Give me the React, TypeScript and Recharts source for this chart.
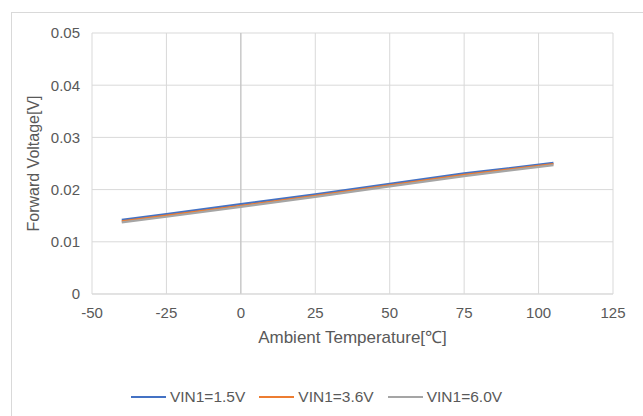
import React from 'react'
import { LineChart, Line, XAxis, YAxis, CartesianGrid, Legend, ReferenceLine } from 'recharts'

// ambient temperature [°C] and forward voltage [V] per input voltage
const temps = [-40, -25, 0, 25, 50, 75, 105]
const vin15 = [0.0142, 0.0153, 0.0172, 0.0191, 0.0211, 0.0231, 0.0251]
const vin36 = [0.0139, 0.015, 0.0169, 0.0188, 0.0208, 0.0228, 0.0249]
const vin60 = [0.0137, 0.0148, 0.0167, 0.0186, 0.0206, 0.0226, 0.0247]

const xTicks = [-50, -25, 0, 25, 50, 75, 100, 125]
const yTicks = [0, 0.01, 0.02, 0.03, 0.04, 0.05]

const seriesKeys = ['v15', 'v36', 'v60']
const seriesNames = ['VIN1=1.5V', 'VIN1=3.6V', 'VIN1=6.0V']
const seriesColors = ['#4472C4', '#ED7D31', '#A5A5A5']

const data = temps.map((t, i) => ({ t, v15: vin15[i], v36: vin36[i], v60: vin60[i] }))

const textColor = '#595959'
const gridColor = '#d9d9d9'

function LegendContent({ payload }: any) {
  return (
    <div style={{ display: 'flex', justifyContent: 'center', alignItems: 'center', height: 18 }}>
      {(payload || []).map((p: any) => (
        <div key={p.value} style={{ display: 'flex', alignItems: 'center', margin: '0 7px' }}>
          <span style={{ display: 'inline-block', width: 35, height: 2.5, background: p.color, marginRight: 4 }} />
          <span style={{ fontSize: 15.5, color: textColor }}>{p.value}</span>
        </div>
      ))}
    </div>
  )
}

export default function App() {
  return (
    <div
      style={{
        position: 'relative',
        width: 643,
        height: 416,
        overflow: 'hidden',
        background: '#fff',
        fontFamily: '"Liberation Sans", Arial, sans-serif',
      }}
    >
      <style>{'body{margin:0}'}</style>
      <div
        style={{
          position: 'absolute',
          left: 11,
          top: 12,
          width: 660,
          height: 440,
          border: `1px solid ${gridColor}`,
        }}
      />
      <div style={{ position: 'absolute', left: 0, top: 0 }}>
        <LineChart width={643} height={416} data={data} margin={{ top: 33, right: 30, left: 20, bottom: 10 }}>
          <CartesianGrid stroke={gridColor} strokeWidth={1} />
          <XAxis
            dataKey="t"
            type="number"
            domain={[-50, 125]}
            ticks={xTicks}
            interval={0}
            height={94}
            tickLine={false}
            tickSize={0}
            tickMargin={13}
            axisLine={{ stroke: gridColor }}
            tick={{ fill: textColor, fontSize: 15 }}
            label={{
              value: 'Ambient Temperature[℃]',
              position: 'insideTop',
              offset: 37,
              fill: textColor,
              fontSize: 17,
            }}
          />
          <YAxis
            type="number"
            domain={[0, 0.05]}
            ticks={yTicks}
            interval={0}
            width={72}
            axisLine={false}
            tickLine={false}
            tickSize={0}
            tickMargin={12}
            tick={{ fill: textColor, fontSize: 15 }}
            label={{
              value: 'Forward Voltage[V]',
              angle: -90,
              position: 'insideLeft',
              offset: 13,
              fill: textColor,
              fontSize: 16,
              style: { textAnchor: 'middle' },
            }}
          />
          <ReferenceLine x={0} stroke="#bfbfbf" strokeWidth={1} />
          {seriesKeys.map((k, i) => (
            <Line
              key={k}
              type="linear"
              dataKey={k}
              name={seriesNames[i]}
              stroke={seriesColors[i]}
              strokeWidth={2.25}
              dot={false}
              activeDot={false}
              isAnimationActive={false}
            />
          ))}
          <Legend verticalAlign="bottom" height={18} content={<LegendContent />} />
        </LineChart>
      </div>
    </div>
  )
}
